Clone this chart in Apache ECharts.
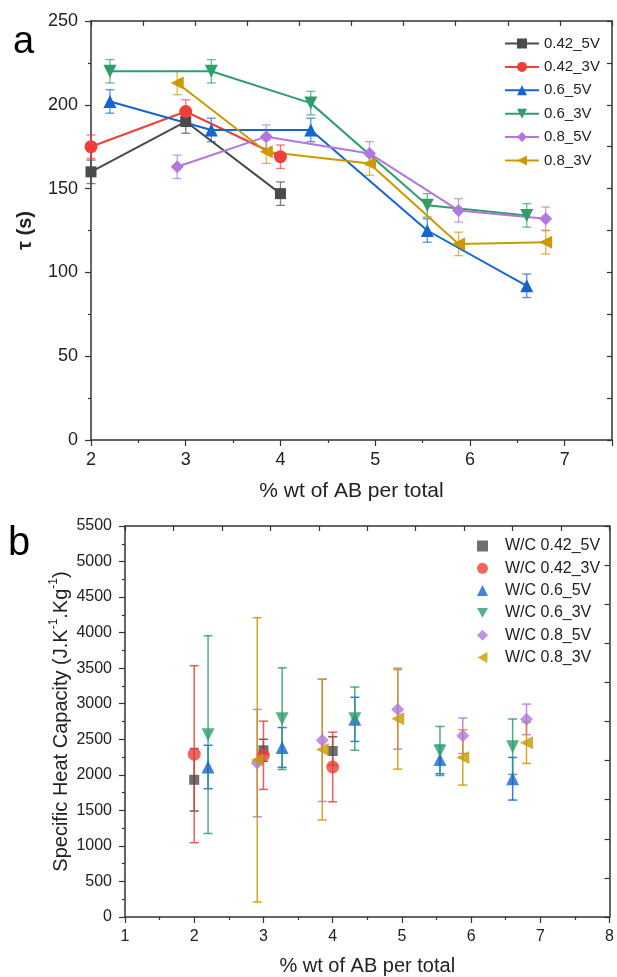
<!DOCTYPE html>
<html>
<head>
<meta charset="utf-8">
<script src="https://cdn.jsdelivr.net/npm/echarts@6/dist/echarts.min.js"></script>
<style>
  html, body { margin: 0; padding: 0; background: #fff; }
  #chart { width: 617px; height: 977px; }
</style>
</head>
<body>
<div id="chart"></div>
<script>
// x positions (% wt of AB per total)
const x042 = [2, 3, 4];
const x06 = [2.2, 3.27, 4.32, 5.55, 6.6];
const x08 = [2.91, 3.85, 4.94, 5.88, 6.8];

// panel a: tau (s)
const tau042_5 = [160, 190, 147];
const tau042_3 = [175, 196, 169];
const tau06_5 = [202, 185, 185, 125, 92];
const tau06_3 = [220, 220, 201, 140, 134];
const tau08_5 = [163, 181, 171, 137, 132];
const tau08_3 = [213, 172, 165, 117, 118];
const tauErr042_5 = [7, 7, 7];
const tauErr042_3 = [7, 7, 7];
const tauErr06_5 = [7, 7, 7, 7, 7];
const tauErr06_3 = [7, 7, 7, 7, 7];
const tauErr08_5 = [7, 7, 7, 7, 7];
const tauErr08_3 = [7, 7, 7, 7, 7];

// panel b: specific heat capacity
const cp042_5 = [1930, 2345, 2335];
const cp042_3 = [2290, 2275, 2110];
const cp06_5 = [2110, 2385, 2780, 2215, 1945];
const cp06_3 = [2565, 2790, 2790, 2335, 2395];
const cp08_5 = [2165, 2485, 2920, 2550, 2780];
const cp08_3 = [2210, 2355, 2790, 2245, 2450];
const cpErr042_5 = [440, 155, 200];
const cpErr042_3 = [1245, 480, 490];
const cpErr06_5 = [305, 280, 310, 200, 300];
const cpErr06_3 = [1390, 715, 445, 345, 390];
const cpErr08_5 = [755, 860, 560, 250, 215];
const cpErr08_3 = [2000, 990, 710, 390, 290];

const namesA = ["0.42_5V", "0.42_3V", "0.6_5V", "0.6_3V", "0.8_5V", "0.8_3V"];
const namesB = ["W/C 0.42_5V", "W/C 0.42_3V", "W/C 0.6_5V", "W/C 0.6_3V", "W/C 0.8_5V", "W/C 0.8_3V"];
const colors = ["#4a4a4a", "#EE3F3A", "#1565D0", "#2F9E6B", "#B177DE", "#CC9900"];
const symbols = ["rect", "circle", "triangle", "triangle", "diamond", "triangle"];
const rotates = [0, 0, 0, 180, 0, 90];
// legend icons of panel b (scatter legend does not take the rotation)
const iconsB = ["rect", "circle", "triangle", "path://M0,0L10,0L5,9Z", "diamond", "path://M9,0L9,10L0,5Z"];

const xs = [x042, x042, x06, x06, x08, x08];
const tauVals = [tau042_5, tau042_3, tau06_5, tau06_3, tau08_5, tau08_3];
const tauErrs = [tauErr042_5, tauErr042_3, tauErr06_5, tauErr06_3, tauErr08_5, tauErr08_3];
const cpVals = [cp042_5, cp042_3, cp06_5, cp06_3, cp08_5, cp08_3];
const cpErrs = [cpErr042_5, cpErr042_3, cpErr06_5, cpErr06_3, cpErr08_5, cpErr08_3];

const FONT = "Liberation Sans, Arial, sans-serif";
const AXIS_COLOR = "#333";

function errBar(color, opacity, lw, cap) {
  return function (params, api) {
    const x = api.value(0), y = api.value(1), e = api.value(2);
    const hi = api.coord([x, y + e]);
    const lo = api.coord([x, y - e]);
    const st = { stroke: color, lineWidth: lw, opacity: opacity };
    return {
      type: "group",
      children: [
        { type: "line", shape: { x1: hi[0], y1: hi[1], x2: lo[0], y2: lo[1] }, style: st },
        { type: "line", shape: { x1: hi[0] - cap, y1: hi[1], x2: hi[0] + cap, y2: hi[1] }, style: st },
        { type: "line", shape: { x1: lo[0] - cap, y1: lo[1], x2: lo[0] + cap, y2: lo[1] }, style: st }
      ]
    };
  };
}

function mainAxis(grid, min, max, interval, fontSize, margin, extra) {
  return Object.assign({
    type: "value",
    gridIndex: grid,
    min: min,
    max: max,
    interval: interval,
    nameMoveOverlap: false,
    splitLine: { show: false },
    axisLine: { show: true, onZero: false, lineStyle: { color: AXIS_COLOR, width: 1.5 } },
    axisTick: { show: true, inside: false, length: 6, lineStyle: { color: AXIS_COLOR, width: 1.2 } },
    minorTick: { show: true, splitNumber: 2, length: 3, lineStyle: { color: AXIS_COLOR, width: 1.2 } },
    axisLabel: {
      color: "#222",
      fontSize: fontSize,
      fontFamily: FONT,
      margin: margin,
      formatter: function (v) { return Number.isInteger(v) ? String(v) : ""; }
    }
  }, extra);
}

function mirrorAxis(grid, pos) {
  return {
    type: "value",
    gridIndex: grid,
    position: pos,
    min: 0,
    max: 10,
    interval: 1,
    splitLine: { show: false },
    axisLine: { show: true, onZero: false, lineStyle: { color: AXIS_COLOR, width: 1.5 } },
    axisTick: { show: true, inside: true, length: 5, lineStyle: { color: AXIS_COLOR, width: 1.2 } },
    axisLabel: { show: false }
  };
}

const series = [];
for (let i = 0; i < 6; i++) {
  series.push({
    type: "custom",
    xAxisIndex: 0,
    yAxisIndex: 0,
    silent: true,
    z: 1,
    data: xs[i].map((x, j) => [x, tauVals[i][j], tauErrs[i][j]]),
    renderItem: errBar(colors[i], 0.7, 1.3, 4.5)
  });
}
for (let i = 0; i < 6; i++) {
  series.push({
    name: namesA[i],
    type: "line",
    xAxisIndex: 0,
    yAxisIndex: 0,
    z: 2,
    symbol: symbols[i],
    symbolRotate: rotates[i],
    symbolSize: symbols[i] === "rect" ? 11 : 13,
    color: colors[i],
    lineStyle: { width: 2, color: colors[i] },
    data: xs[i].map((x, j) => [x, tauVals[i][j]])
  });
}
for (let i = 0; i < 6; i++) {
  series.push({
    type: "custom",
    xAxisIndex: 1,
    yAxisIndex: 2,
    silent: true,
    z: 1,
    data: xs[i].map((x, j) => [x, cpVals[i][j], cpErrs[i][j]]),
    renderItem: errBar(colors[i], 0.85, 1.5, 4.5)
  });
}
for (let i = 0; i < 6; i++) {
  series.push({
    name: namesB[i],
    type: "scatter",
    xAxisIndex: 1,
    yAxisIndex: 2,
    z: 2,
    symbol: symbols[i],
    symbolRotate: rotates[i],
    symbolSize: symbols[i] === "rect" ? 10 : 13,
    color: colors[i],
    data: xs[i].map((x, j) => [x, cpVals[i][j]])
  });
}

const option = {
  animation: false,
  textStyle: { fontFamily: FONT },
  grid: [
    { left: 91, top: 21, width: 521, height: 419 },
    { left: 125, top: 526, width: 487, height: 391 }
  ],
  xAxis: [
    mainAxis(0, 2, 7.5, 1, 18, 11, {
      position: "bottom",
      name: "% wt of AB per total",
      nameLocation: "middle",
      nameGap: 41,
      nameTextStyle: { color: "#222", fontSize: 21, fontFamily: FONT }
    }),
    mainAxis(1, 1, 8, 1, 16, 12, {
      position: "bottom",
      name: "% wt of AB per total",
      nameLocation: "middle",
      nameGap: 39,
      nameTextStyle: { color: "#222", fontSize: 20, fontFamily: FONT }
    }),
    mirrorAxis(0, "top"),
    mirrorAxis(1, "top")
  ],
  yAxis: [
    mainAxis(0, 0, 250, 50, 18, 13, {
      position: "left",
      name: "τ (s)",
      nameLocation: "middle",
      nameGap: 56,
      nameTextStyle: { color: "#222", fontSize: 20, fontWeight: "bold", fontFamily: FONT }
    }),
    mirrorAxis(0, "right"),
    mainAxis(1, 0, 5500, 500, 16, 13, {
      position: "left",
      name: "Specific Heat Capacity (J.K{sup|-1}.Kg{sup|-1})",
      nameLocation: "middle",
      nameGap: 51,
      nameTextStyle: {
        color: "#222",
        fontSize: 20,
        lineHeight: 26,
        fontFamily: FONT,
        rich: { sup: { fontSize: 12, verticalAlign: "top", lineHeight: 26, color: "#222", fontFamily: FONT } }
      }
    }),
    mirrorAxis(1, "right")
  ],
  legend: [
    {
      data: namesA,
      orient: "vertical",
      left: 499,
      top: 31,
      padding: 5,
      itemWidth: 34,
      itemHeight: 12.5,
      itemGap: 8.4,
      textStyle: { fontSize: 15, lineHeight: 15, color: "#222", fontFamily: FONT }
    },
    {
      data: namesB.map((n, i) => ({ name: n, icon: iconsB[i] })),
      orient: "vertical",
      left: 472,
      top: 533,
      padding: 5,
      itemWidth: 11,
      itemHeight: 11,
      itemGap: 6.3,
      textStyle: { fontSize: 16, lineHeight: 16, color: "#222", fontFamily: FONT, padding: [0, 0, 0, 12] }
    }
  ],
  graphic: [
    { type: "text", left: 13, top: 24, style: { text: "a", fontSize: 38, fontFamily: FONT, fill: "#000" } },
    { type: "text", left: 8, top: 524, style: { text: "b", fontSize: 40, fontFamily: FONT, fill: "#000" } }
  ],
  series: series
};

const myChart = echarts.init(document.getElementById("chart"));
myChart.setOption(option);
</script>
</body>
</html>
